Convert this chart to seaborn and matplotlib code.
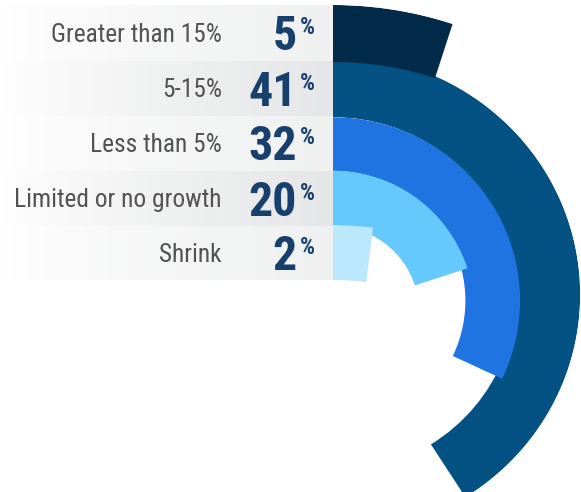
import numpy as np
import pandas as pd
import matplotlib
matplotlib.use("Agg")
import matplotlib.pyplot as plt
import seaborn as sns

# ---- data -------------------------------------------------------------
categories = ["Greater than 15%", "5-15%", "Less than 5%", "Limited or no growth", "Shrink"]
shares = [5, 41, 32, 20, 2]          # percent of respondents
ring_colors = ["#012b49", "#045283", "#1f74e2", "#66c9fe", "#bce8fe"]

# ---- layout (pixels) --------------------------------------------------
W, H, DPI = 581, 492, 100
ROW_EDGES = [5, 61, 116, 171, 226, 280]   # label rows, top to bottom
PANEL_RIGHT = 333
ROW_SHADES = ["#eff0f0", "#e5e6e7", "#eff0f0", "#e5e6e7", "#eff0f0"]
# each ring: centre y, outer radius, inner radius, horizontal stretch
RING_CY = [392, 294.6, 300.7, 312, 545]
RING_ROUT = [387, 240, 183.5, 141.5, 320]
RING_RIN = [330, 177.4, 129.8, 86, 265]
RING_STRETCH = [1.0, 1.03, 1.02, 1.0, 1.0]
RING_Z = [6, 2, 3, 4, 5]

LABEL_FONT = ["Roboto Condensed", "Roboto", "DejaVu Sans"]
VALUE_COLOR = "#17406c"

sns.set_theme(style="white")
plt.rcParams["font.family"] = LABEL_FONT

fig = plt.figure(figsize=(W / DPI, H / DPI), dpi=DPI)
fig.patch.set_facecolor("white")

# pixel-space backdrop for the label panel
bg = fig.add_axes([0, 0, 1, 1], zorder=0)
bg.set_xlim(0, W)
bg.set_ylim(H, 0)
bg.set_axis_off()

grad = np.linspace(0, 1, 256) ** 0.8
for i, shade in enumerate(ROW_SHADES):
    rgb = np.array(matplotlib.colors.to_rgb(shade))
    row = 1 - (1 - rgb)[None, :] * grad[:, None]
    bg.imshow(row[None, :, :], extent=(0, PANEL_RIGHT, ROW_EDGES[i + 1], ROW_EDGES[i]),
              aspect="auto", interpolation="bilinear", zorder=1)

# labels and values
for i, (cat, v) in enumerate(zip(categories, shares)):
    yc = (ROW_EDGES[i] + ROW_EDGES[i + 1]) / 2
    bg.text(222, yc + 8.5, cat, ha="right", va="baseline", fontsize=18.3,
            color="#525252", zorder=3)
    bg.text(297, yc + 17, f"{v}", ha="right", va="baseline", fontsize=34.5,
            fontweight="bold", color=VALUE_COLOR, zorder=3)
    bg.text(299.5, yc + 1, "%", ha="left", va="baseline", fontsize=17,
            fontweight="bold", color=VALUE_COLOR, zorder=3)

# one polar axes per ring, each drawn as a horizontal seaborn bar
for i, (cat, v) in enumerate(zip(categories, shares)):
    cy, ro, ri, s = RING_CY[i], RING_ROUT[i], RING_RIN[i], RING_STRETCH[i]
    a, b = s * ro, ro
    rect = [(PANEL_RIGHT - a) / W, 1 - (cy + b) / H, 2 * a / W, 2 * b / H]
    ax = fig.add_axes(rect, projection="polar", zorder=RING_Z[i])
    ax.set_theta_zero_location("N")
    ax.set_theta_direction(-1)
    df = pd.DataFrame({"theta": [v / 100 * 2 * np.pi], "group": [cat]})
    sns.barplot(data=df, x="theta", y="group", orient="h", width=1.0,
                color=ring_colors[i], saturation=1, errorbar=None,
                linewidth=0, ax=ax)
    q = ri / ro
    ax.set_xlim(0, 2 * np.pi)
    ax.set_ylim(-0.5 * (1 + q) / (1 - q), 0.5)
    ax.set_aspect("auto")
    ax.set_axis_off()
    ax.patch.set_alpha(0)

fig.savefig("out.png", dpi=DPI, facecolor="white")
